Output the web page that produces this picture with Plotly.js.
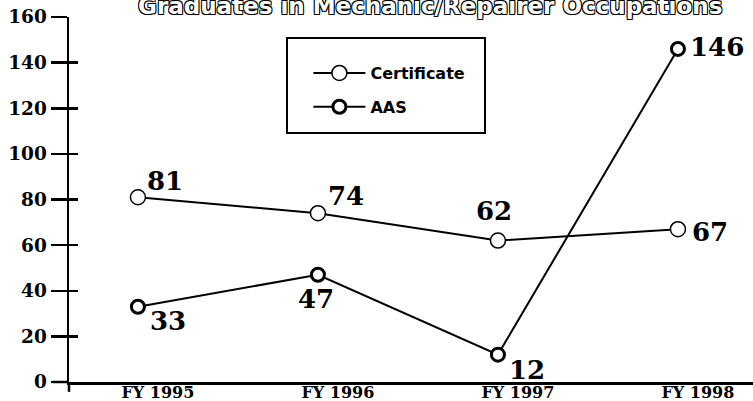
<!DOCTYPE html>
<html>
<head>
<meta charset="utf-8">
<script src="https://cdn.plot.ly/plotly-3.0.1.min.js"></script>
<style>html,body{margin:0;padding:0;background:#fff;}#chart{width:753px;height:401px;}</style>
</head>
<body>
<div id="chart"></div>
<script>
// ---- data ----
const years = ["FY 1995", "FY 1996", "FY 1997", "FY 1998"];
const certificate = [81, 74, 62, 67];
const aas = [33, 47, 12, 146];
const yTicks = [0, 20, 40, 60, 80, 100, 120, 140, 160];
const chartTitle = "Graduates in Mechanic/Repairer Occupations";

// label placement offsets (pixels) relative to each point
const certShift = [[27, 16], [28, 17], [-4, 30], [32, -3]];
const aasShift = [[30, -14], [-2, -24], [29, -15], [39, 2]];

const numFont = {family: "DejaVu Serif", size: 26, color: "#000", weight: "bold"};

const traces = [
  {
    x: years, y: certificate, name: "Certificate", type: "scatter", mode: "lines+markers",
    legendgroup: "c",
    line: {color: "#000", width: 2},
    marker: {symbol: "circle", size: 15, color: "#fff", line: {color: "#000", width: 1.5}},
    cliponaxis: false
  },
  {
    x: years, y: aas, name: "AAS", type: "scatter", mode: "lines+markers",
    legendgroup: "a",
    line: {color: "#000", width: 2},
    marker: {symbol: "circle", size: 13, color: "#fff", line: {color: "#000", width: 3}},
    cliponaxis: false
  },
  // invisible helper trace so the overlay axis (inner tick half) is drawn
  {
    x: [years[0]], y: [0], yaxis: "y2", type: "scatter", mode: "markers",
    marker: {opacity: 0}, showlegend: false, hoverinfo: "skip"
  }
];

const annotations = [];
certificate.forEach((v, i) => annotations.push({
  x: years[i], y: v, xref: "x", yref: "y", text: String(v), showarrow: false,
  xshift: certShift[i][0], yshift: certShift[i][1], font: numFont
}));
aas.forEach((v, i) => annotations.push({
  x: years[i], y: v, xref: "x", yref: "y", text: String(v), showarrow: false,
  xshift: aasShift[i][0], yshift: aasShift[i][1], font: numFont
}));
annotations.push({
  xref: "paper", yref: "paper", x: 0.528, y: 0.99, xanchor: "center", yanchor: "bottom",
  text: chartTitle, showarrow: false,
  font: {family: "DejaVu Sans", size: 23, weight: "bold", color: "#fff",
         shadow: "-1px -1px 0 #000, 1px -1px 0 #000, -1px 1px 0 #000, 1px 1px 0 #000"}
});

const layout = {
  width: 753, height: 401,
  margin: {l: 69, r: 0, t: 17, b: 19, pad: 0},
  paper_bgcolor: "#fff", plot_bgcolor: "#fff",
  font: {family: "DejaVu Serif", color: "#000", weight: "bold"},
  showlegend: true,
  legend: {
    x: 0.35, y: 0.893, xanchor: "left", yanchor: "top",
    bgcolor: "rgba(0,0,0,0)", borderwidth: 0,
    traceorder: "grouped", tracegroupgap: 10, itemwidth: 52,
    font: {family: "DejaVu Sans", size: 16, weight: "bold", color: "#000"}
  },
  xaxis: {
    type: "category", range: [-0.383, 3.417],
    showline: true, linecolor: "#000", linewidth: 2.5,
    ticks: "", showgrid: false, zeroline: false,
    ticklabelshift: 20, ticklabelstandoff: -6,
    tickfont: {family: "DejaVu Serif", size: 16, weight: "bold", color: "#000"}
  },
  yaxis: {
    range: [0, 160], tickmode: "array", tickvals: yTicks,
    showline: true, linecolor: "#000", linewidth: 2.5,
    ticks: "outside", ticklen: 16, tickwidth: 2.5, tickcolor: "#000",
    showgrid: false, zeroline: false,
    tickfont: {family: "DejaVu Serif", size: 18.5, weight: "bold", color: "#000"}
  },
  yaxis2: {
    overlaying: "y", side: "left", range: [0, 160], tickmode: "array", tickvals: yTicks,
    ticks: "inside", ticklen: 9, tickwidth: 2.5, tickcolor: "#000",
    showticklabels: false, showline: false, showgrid: false, zeroline: false
  },
  shapes: [
    {type: "rect", xref: "paper", yref: "paper", x0: 0.3187, x1: 0.6082, y0: 0.682, y1: 0.9425,
     line: {color: "#000", width: 2}},
    {type: "line", xref: "paper", yref: "paper", x0: -0.024, x1: 0, y0: 0, y1: 0,
     line: {color: "#000", width: 2.5}},
    {type: "line", xref: "paper", yref: "paper", x0: 0, x1: 0, y0: -0.027, y1: 0,
     line: {color: "#000", width: 2.5}}
  ],
  annotations: annotations,
  hovermode: false
};

Plotly.newPlot("chart", traces, layout, {displayModeBar: false, staticPlot: true});
</script>
</body>
</html>
